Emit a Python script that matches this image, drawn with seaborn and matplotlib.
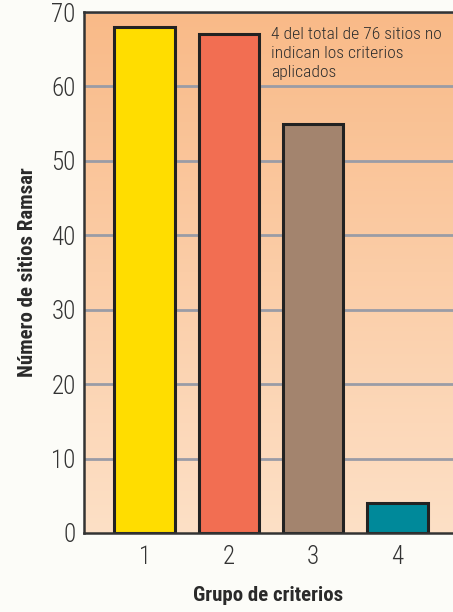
import numpy as np
import pandas as pd
import matplotlib
matplotlib.use("Agg")
import matplotlib.pyplot as plt
import seaborn as sns

# Data
grupos = ["1", "2", "3", "4"]
sitios = [68, 67, 55, 4]
colores = ["#FFDD00", "#F26E52", "#A3846E", "#00899A"]
y_ticks = [0, 10, 20, 30, 40, 50, 60, 70]
nota = "4 del total de 76 sitios no\nindican los criterios\naplicados"
x_label = "Grupo de criterios"
y_label = "Número de sitios Ramsar"

sns.set_theme(style="white")
plt.rcParams["font.family"] = ["Roboto Condensed", "Fira Sans Condensed", "Archivo Narrow", "DejaVu Sans"]

df = pd.DataFrame({"grupo": grupos, "sitios": sitios})

fig = plt.figure(figsize=(4.53, 6.12), dpi=100, facecolor="#FCFCF8")
ax = fig.add_axes([84 / 453, 1 - 533 / 612, 1 - 84 / 453, (533 - 12) / 612])

# gradient background
grad = np.linspace(0, 1, 256).reshape(-1, 1)
top = np.array([0xF9, 0xBA, 0x88]) / 255
bot = np.array([0xFD, 0xE0, 0xC6]) / 255
img = top[None, None, :] * (1 - grad[:, :, None]) + bot[None, None, :] * grad[:, :, None]
ax.imshow(img, extent=[0, 1, 0, 1], transform=ax.transAxes, aspect="auto", zorder=0)

for t in y_ticks[1:]:
    ax.axhline(t, color="#9A9CA6", lw=2, zorder=1)

sns.barplot(data=df, x="grupo", y="sitios", hue="grupo", palette=colores,
            width=0.72, edgecolor="#222222", linewidth=2.2, legend=False,
            saturation=1, ax=ax, zorder=2)

ax.set_xlim(-0.72, 3.66)
ax.set_ylim(0, 70)
ax.set_yticks(y_ticks)
ax.tick_params(axis="both", length=0, labelsize=18, labelcolor="#333333")
ax.tick_params(axis="y", pad=6)
ax.tick_params(axis="x", pad=9)
for lab in ax.get_xticklabels() + ax.get_yticklabels():
    lab.set_fontweight("light")

for s in ["left", "bottom", "top"]:
    ax.spines[s].set_visible(True)
    ax.spines[s].set_color("#333333")
    ax.spines[s].set_linewidth(1.8)
    ax.spines[s].set_zorder(5)
ax.spines["right"].set_visible(False)

ax.set_xlabel(x_label, fontsize=15, fontweight="bold", color="#2A2A2A", labelpad=12)
ax.set_ylabel(y_label, fontsize=15, fontweight="bold", color="#2A2A2A", labelpad=10)

ax.text(1.50, 68.0, nota, fontsize=12.6, fontweight="light", color="#2E2E2E",
        va="top", ha="left", linespacing=1.32, zorder=6)

fig.savefig("out.png", dpi=100, facecolor=fig.get_facecolor())
